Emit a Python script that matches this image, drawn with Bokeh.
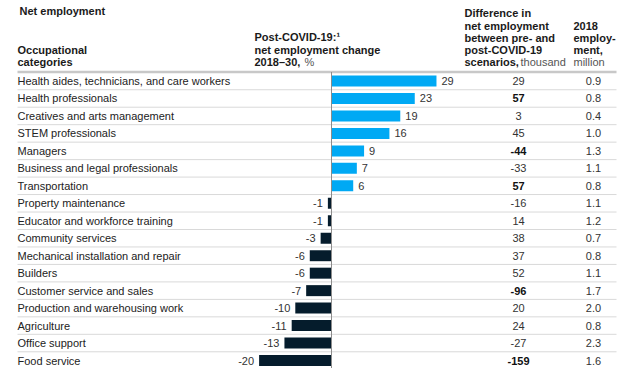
from bokeh.plotting import figure
from bokeh.models import Range1d, ColumnDataSource
from bokeh.core.properties import value
from bokeh.embed import file_html
from bokeh.resources import INLINE

categories = [
    "Health aides, technicians, and care workers",
    "Health professionals",
    "Creatives and arts management",
    "STEM professionals",
    "Managers",
    "Business and legal professionals",
    "Transportation",
    "Property maintenance",
    "Educator and workforce training",
    "Community services",
    "Mechanical installation and repair",
    "Builders",
    "Customer service and sales",
    "Production and warehousing work",
    "Agriculture",
    "Office support",
    "Food service",
]
change_pct = [29, 23, 19, 16, 9, 7, 6, -1, -1, -3, -6, -6, -7, -10, -11, -13, -20]
diff_thousand = [29, 57, 3, 45, -44, -33, 57, -16, 14, 38, 37, 52, -96, 20, 24, -27, -159]
diff_bold = [False, True, False, False, True, False, True, False, False, False,
             False, False, True, False, False, False, True]
emp_2018 = [0.9, 0.8, 0.4, 1.0, 1.3, 1.1, 0.8, 1.1, 1.2, 0.7, 0.8, 1.1, 1.7, 2.0, 0.8, 2.3, 1.6]

FONT = "Liberation Sans"
W, H = 624, 368
SCALE = 3.62          # px per percentage point
ZERO = 331            # px of zero line
ROW0 = 80.5           # px of first row center
PITCH = 17.47         # px per row


def X(px):
    return (px - ZERO) / SCALE


def Y(px):
    return (px - ROW0) / PITCH


p = figure(width=W, height=H, output_backend="svg", toolbar_location=None,
           x_range=Range1d(-ZERO / SCALE, (W - ZERO) / SCALE),
           y_range=Range1d((H - ROW0) / PITCH, -ROW0 / PITCH),
           min_border=0, outline_line_color=None)
p.axis.visible = False
p.grid.visible = False
p.background_fill_color = "white"
p.border_fill_color = "white"

n = len(categories)
rows = list(range(n))

# separators
p.segment(x0=[X(17)] * (n - 1), x1=[X(616)] * (n - 1),
          y0=[i + 0.5 for i in range(n - 1)], y1=[i + 0.5 for i in range(n - 1)],
          line_color="#d9d9d9", line_width=1)
p.segment(x0=[X(17)], x1=[X(616)], y0=[Y(71.5)], y1=[Y(71.5)], line_color="#c8c8c8", line_width=2.5)

colors = ["#00A9F4" if v > 0 else "#051C2C" for v in change_pct]
src = ColumnDataSource(dict(y=rows, v=change_pct, c=colors))
p.hbar(y="y", left=0, right="v", height=0.63, fill_color="c", line_color=None, source=src)

# zero line
p.segment(x0=[0], x1=[0], y0=[Y(71.5)], y1=[Y(368)], line_color="#8c8c8c", line_width=1)

# row labels
p.text(x=[X(17)] * n, y=rows, text=categories, text_font=value(FONT),
       text_font_size="11px", text_color="#222222", text_baseline="middle", text_align="left")

# bar value labels
pos = [(i, v) for i, v in enumerate(change_pct) if v > 0]
neg = [(i, v) for i, v in enumerate(change_pct) if v <= 0]
p.text(x=[v for _, v in pos], y=[i for i, _ in pos], text=[str(v) for _, v in pos],
       x_offset=5, text_font=value(FONT), text_font_size="11px", text_color="#333333",
       text_baseline="middle", text_align="left")
p.text(x=[v for _, v in neg], y=[i for i, _ in neg], text=[str(v) for _, v in neg],
       x_offset=-5, text_font=value(FONT), text_font_size="11px", text_color="#333333",
       text_baseline="middle", text_align="right")

# difference column
dn = [(i, v) for i, v in enumerate(diff_thousand) if not diff_bold[i]]
db = [(i, v) for i, v in enumerate(diff_thousand) if diff_bold[i]]
p.text(x=[X(518)] * len(dn), y=[i for i, _ in dn], text=[str(v) for _, v in dn],
       text_font=value(FONT), text_font_size="11px", text_color="#333333",
       text_baseline="middle", text_align="center")
p.text(x=[X(518)] * len(db), y=[i for i, _ in db], text=[str(v) for _, v in db],
       text_font=value(FONT), text_font_size="11px", text_color="#111111", text_font_style="bold",
       text_baseline="middle", text_align="center")

# 2018 employment column
p.text(x=[X(593)] * n, y=rows, text=[f"{v:.1f}" for v in emp_2018],
       text_font=value(FONT), text_font_size="11px", text_color="#333333",
       text_baseline="middle", text_align="center")

# headers (bold)
hb_x = [X(19), X(17), X(17), X(254), X(254), X(254),
        X(464), X(464), X(464), X(464), X(464),
        X(573), X(573), X(573)]
hb_y = [Y(10), Y(49), Y(61.5), Y(36), Y(49), Y(61.5),
        Y(12.5), Y(25), Y(37), Y(49), Y(61.5),
        Y(25), Y(37), Y(49)]
hb_t = ["Net employment", "Occupational", "categories",
        "Post-COVID-19:¹", "net employment change", "2018–30,",
        "Difference in", "net employment", "between pre- and", "post-COVID-19", "scenarios,",
        "2018", "employ-", "ment,"]
p.text(x=hb_x, y=hb_y, text=hb_t, text_font=value(FONT), text_font_size="11px",
       text_font_style="bold", text_color="#1a1a1a", text_baseline="middle", text_align="left")

# headers (normal)
p.text(x=[X(304), X(520), X(573)], y=[Y(61.5)] * 3, text=["%", "thousand", "million"],
       text_font=value(FONT), text_font_size="11px", text_color="#555555",
       text_baseline="middle", text_align="left")

open("out.html", "w").write(file_html(p, INLINE))
